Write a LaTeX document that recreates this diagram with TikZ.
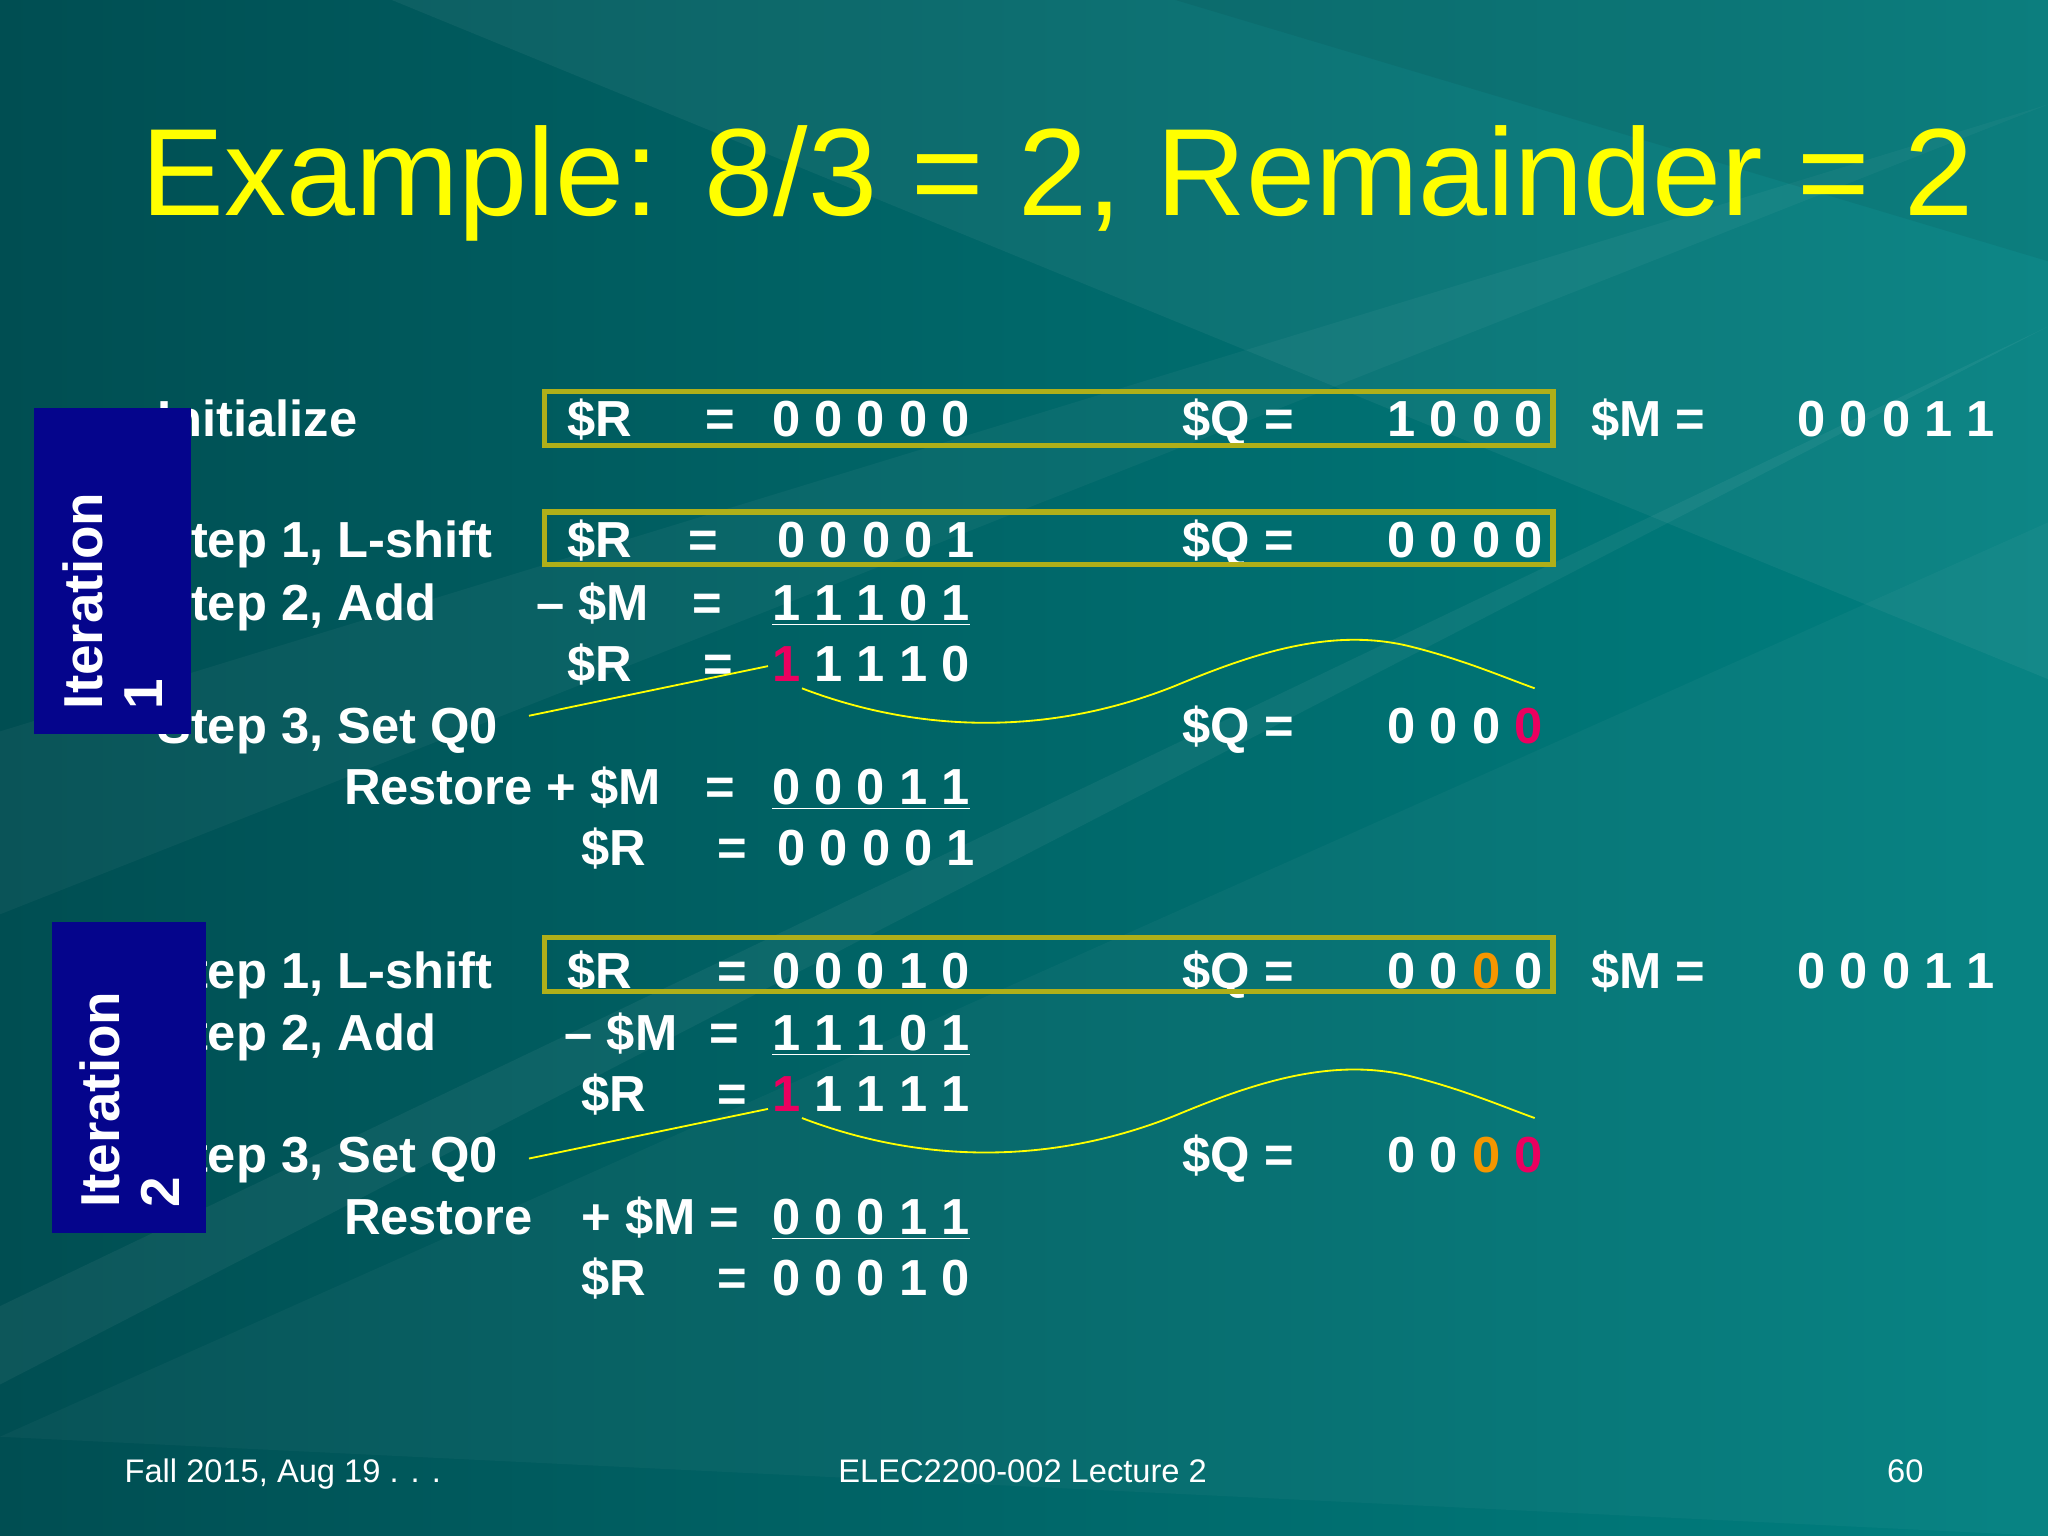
\documentclass[tikz,border=0pt]{standalone}
\usepackage{fontspec}
\setmainfont{Liberation Sans}
\usetikzlibrary{shapes.geometric}
\definecolor{bgA}{RGB}{0,78,82}
\definecolor{bgB}{RGB}{0,128,128}
\definecolor{ttl}{RGB}{255,255,0}
\definecolor{boxc}{RGB}{175,175,25}
\definecolor{itb}{RGB}{5,5,140}
\definecolor{rd}{RGB}{235,0,95}
\definecolor{og}{RGB}{245,150,0}
\begin{document}
\begin{tikzpicture}[x=0.5pt,y=-0.5pt,
  t/.style={anchor=base west,inner sep=0pt,text=white,font=\fontsize{19.4}{22}\selectfont\bfseries},
  hl/.style={draw=boxc,line width=2pt},
  itbox/.style={fill=itb,draw=none},
  wave/.style={draw=ttl,line width=0.7pt},
  foot/.style={inner sep=0pt,text=white,font=\fontsize{12.5}{14}\selectfont}]
\useasboundingbox (0,0) rectangle (1568,1176);
\shade[left color=bgA,right color=bgB] (0,0) rectangle (1568,1176);
\fill[white,opacity=0.05] (1568,0) -- (300,0) -- (1568,520) -- cycle;
\fill[white,opacity=0.04] (1568,80) -- (0,560) -- (0,700) -- cycle;
\fill[white,opacity=0.05] (1568,250) -- (0,1000) -- (0,1060) -- cycle;
\fill[black,opacity=0.06] (1568,0) -- (900,0) -- (1568,200) -- cycle;
\fill[white,opacity=0.03] (1568,400) -- (0,1100) -- (1568,1176) -- cycle;

\node[anchor=base west,inner sep=0pt,text=ttl,font=\fontsize{47.5}{52}\selectfont] (title) at (108,165) {Example: 8/3 = 2, Remainder = 2};

% row 1
\node[t] (l1) at (120,334) {Initialize};
\node[t] (r1a) at (434,334) {\$R};
\node[t] (r1b) at (540,334) {=};
\node[t] (r1c) at (591,334) {0 0 0 0 0};
\node[t] (r1d) at (905,334) {\$Q =};
\node[t] (r1e) at (1062,334) {1 0 0 0};
\node[t] (r1f) at (1218,334) {\$M =};
\node[t] (r1g) at (1376,334) {0 0 0 1 1};
% row 2
\node[t] (l2) at (120,427) {Step 1, L-shift};
\node[t] (r2a) at (434,427) {\$R};
\node[t] (r2b) at (527,427) {=};
\node[t] (r2c) at (595,427) {0 0 0 0 1};
\node[t] (r2d) at (905,427) {\$Q =};
\node[t] (r2e) at (1062,427) {0 0 0 0};
% row 3
\node[t] (l3) at (120,475) {Step 2, Add};
\node[t] (r3a) at (410,475) {– \$M};
\node[t] (r3b) at (530,475) {=};
\node[t] (r3c) at (591,475) {\underline{1 1 1 0 1}};
% row 4
\node[t] (r4a) at (434,522) {\$R};
\node[t] (r4b) at (538,522) {=};
\node[t] (r4c) at (591,522) {\textcolor{rd}{1} 1 1 1 0};
% row 5
\node[t] (l5) at (120,569) {Step 3, Set Q0};
\node[t] (r5d) at (905,569) {\$Q =};
\node[t] (r5e) at (1062,569) {0 0 0 \textcolor{rd}{0}};
% row 6
\node[t] (r6a) at (263,616) {Restore + \$M};
\node[t] (r6b) at (540,616) {=};
\node[t] (r6c) at (591,616) {\underline{0 0 0 1 1}};
% row 7
\node[t] (r7a) at (445,663) {\$R};
\node[t] (r7b) at (549,663) {=};
\node[t] (r7c) at (595,663) {0 0 0 0 1};
% iteration 2
\node[t] (l8) at (120,757) {Step 1, L-shift};
\node[t] (r8a) at (434,757) {\$R};
\node[t] (r8b) at (549,757) {=};
\node[t] (r8c) at (591,757) {0 0 0 1 0};
\node[t] (r8d) at (905,757) {\$Q =};
\node[t] (r8e) at (1062,757) {0 0 \textcolor{og}{0} 0};
\node[t] (r8f) at (1218,757) {\$M =};
\node[t] (r8g) at (1376,757) {0 0 0 1 1};
\node[t] (l9) at (120,804) {Step 2, Add};
\node[t] (r9a) at (432,804) {– \$M};
\node[t] (r9b) at (543,804) {=};
\node[t] (r9c) at (591,804) {\underline{1 1 1 0 1}};
\node[t] (r10a) at (445,851) {\$R};
\node[t] (r10b) at (549,851) {=};
\node[t] (r10c) at (591,851) {\textcolor{rd}{1} 1 1 1 1};
\node[t] (l11) at (120,898) {Step 3, Set Q0};
\node[t] (r11d) at (905,898) {\$Q =};
\node[t] (r11e) at (1062,898) {0 0 \textcolor{og}{0} \textcolor{rd}{0}};
\node[t] (r12a) at (263,945) {Restore};
\node[t] (r12b) at (445,945) {+ \$M =};
\node[t] (r12c) at (591,945) {\underline{0 0 0 1 1}};
\node[t] (r13a) at (445,992) {\$R};
\node[t] (r13b) at (549,992) {=};
\node[t] (r13c) at (591,992) {0 0 0 1 0};

% highlight boxes
\draw[hl] (417,300) rectangle (1189,341);
\draw[hl] (417,392) rectangle (1189,432);
\draw[hl] (417,718) rectangle (1189,759);

% iteration boxes
\fill[itbox] (26,312) rectangle (146,562);
\node[rotate=90,text=white,font=\fontsize{21}{23}\selectfont\bfseries,align=left] (it1) at (86,460) {Iteration\\1};
\fill[itbox] (40,706) rectangle (158,944);
\node[rotate=90,text=white,font=\fontsize{21}{23}\selectfont\bfseries,align=left] (it2) at (99,842) {Iteration\\2};

% waves
\draw[wave] (405,548) -- (588,510);
\draw[wave] (614,527) .. controls (700,560) and (800,565) .. (900,525) .. controls (960,500) and (1020,480) .. (1080,495) .. controls (1120,505) and (1150,518) .. (1175,527);
\draw[wave] (405,887) -- (588,849);
\draw[wave] (614,856) .. controls (700,889) and (800,894) .. (900,854) .. controls (960,829) and (1020,809) .. (1080,824) .. controls (1120,834) and (1150,847) .. (1175,856);

% footer
\node[foot,anchor=base west] (f1) at (95,1135) {Fall 2015, Aug 19 . . .};
\node[foot,anchor=base] (f2) at (783,1135) {ELEC2200-002 Lecture 2};
\node[foot,anchor=base east] (f3) at (1473,1135) {60};
\end{tikzpicture}
\end{document}
